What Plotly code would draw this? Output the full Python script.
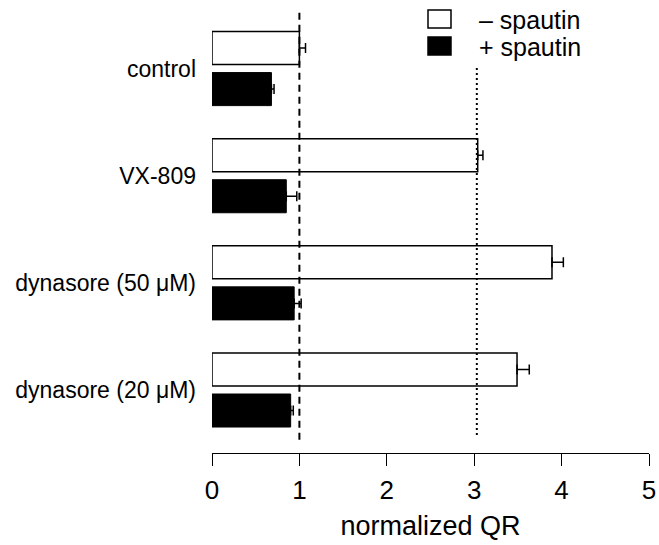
import plotly.graph_objects as go

categories = ["control", "VX-809", "dynasore (50 μM)", "dynasore (20 μM)"]
minus_vals = [1.00, 3.04, 3.89, 3.49]
minus_err = [0.07, 0.06, 0.13, 0.14]
plus_vals = [0.68, 0.85, 0.94, 0.90]
plus_err = [0.03, 0.12, 0.08, 0.03]
series_names = ["– spautin", "+ spautin"]
ref_dashed = 1.0
ref_dotted = 3.03
x_ticks = [0, 1, 2, 3, 4, 5]

FONT = "Liberation Sans, Arial, Helvetica, sans-serif"

fig = go.Figure()
fig.add_trace(go.Bar(
    y=categories, x=minus_vals, orientation="h", name=series_names[0],
    marker=dict(color="white", line=dict(color="black", width=1.5)),
    error_x=dict(type="data", array=minus_err, arrayminus=[0] * len(minus_err),
                 symmetric=False, color="black", thickness=1.5, width=5),
))
fig.add_trace(go.Bar(
    y=categories, x=plus_vals, orientation="h", name=series_names[1],
    marker=dict(color="black", line=dict(color="black", width=1)),
    error_x=dict(type="data", array=plus_err, arrayminus=[0] * len(plus_err),
                 symmetric=False, color="black", thickness=1.5, width=5),
))

fig.add_shape(type="line", xref="x", yref="paper", x0=ref_dashed, x1=ref_dashed,
              y0=0.03, y1=1.011, line=dict(color="black", width=2, dash="7px,5px"))
fig.add_shape(type="line", xref="x", yref="paper", x0=ref_dotted, x1=ref_dotted,
              y0=0.041, y1=0.879, line=dict(color="black", width=2, dash="2px,3px"))

# legend keys and labels
fig.add_shape(type="rect", xref="paper", yref="paper", x0=0.4943, x1=0.5469,
              y0=0.9703, y1=1.0114, fillcolor="white", line=dict(color="black", width=1.5))
fig.add_shape(type="rect", xref="paper", yref="paper", x0=0.4943, x1=0.5469,
              y0=0.9087, y1=0.9498, fillcolor="black", line=dict(color="black", width=1.5))
fig.add_annotation(xref="paper", yref="paper", x=0.607, y=0.9886, text=series_names[0],
                   showarrow=False, xanchor="left", yanchor="middle", font=dict(size=25))
fig.add_annotation(xref="paper", yref="paper", x=0.607, y=0.9269, text=series_names[1],
                   showarrow=False, xanchor="left", yanchor="middle", font=dict(size=25))

fig.update_layout(
    width=659, height=545,
    margin=dict(l=212, r=10, t=15, b=92),
    plot_bgcolor="white", paper_bgcolor="white",
    barmode="group", bargap=0.234, bargroupgap=0.195,
    font=dict(family=FONT, color="black"),
    showlegend=False,
    xaxis=dict(range=[0, 5], tickvals=x_ticks, ticktext=[str(t) for t in x_ticks],
               showline=True, linecolor="black", linewidth=1, ticks="outside",
               ticklen=12, tickwidth=1, tickcolor="black", showgrid=False, zeroline=False,
               automargin=False, ticklabelstandoff=2,
               tickfont=dict(size=26), title=dict(text="normalized QR", font=dict(size=27), standoff=11)),
    yaxis=dict(type="category", range=[3.588, -0.5], showline=False, showgrid=False,
               zeroline=False, ticks="", tickfont=dict(size=23), ticklabelstandoff=15,
               automargin=False),
)

fig.write_html("out.html", config={"displayModeBar": False},
               post_script="document.body.style.margin='0px';document.body.style.overflow='hidden';")
